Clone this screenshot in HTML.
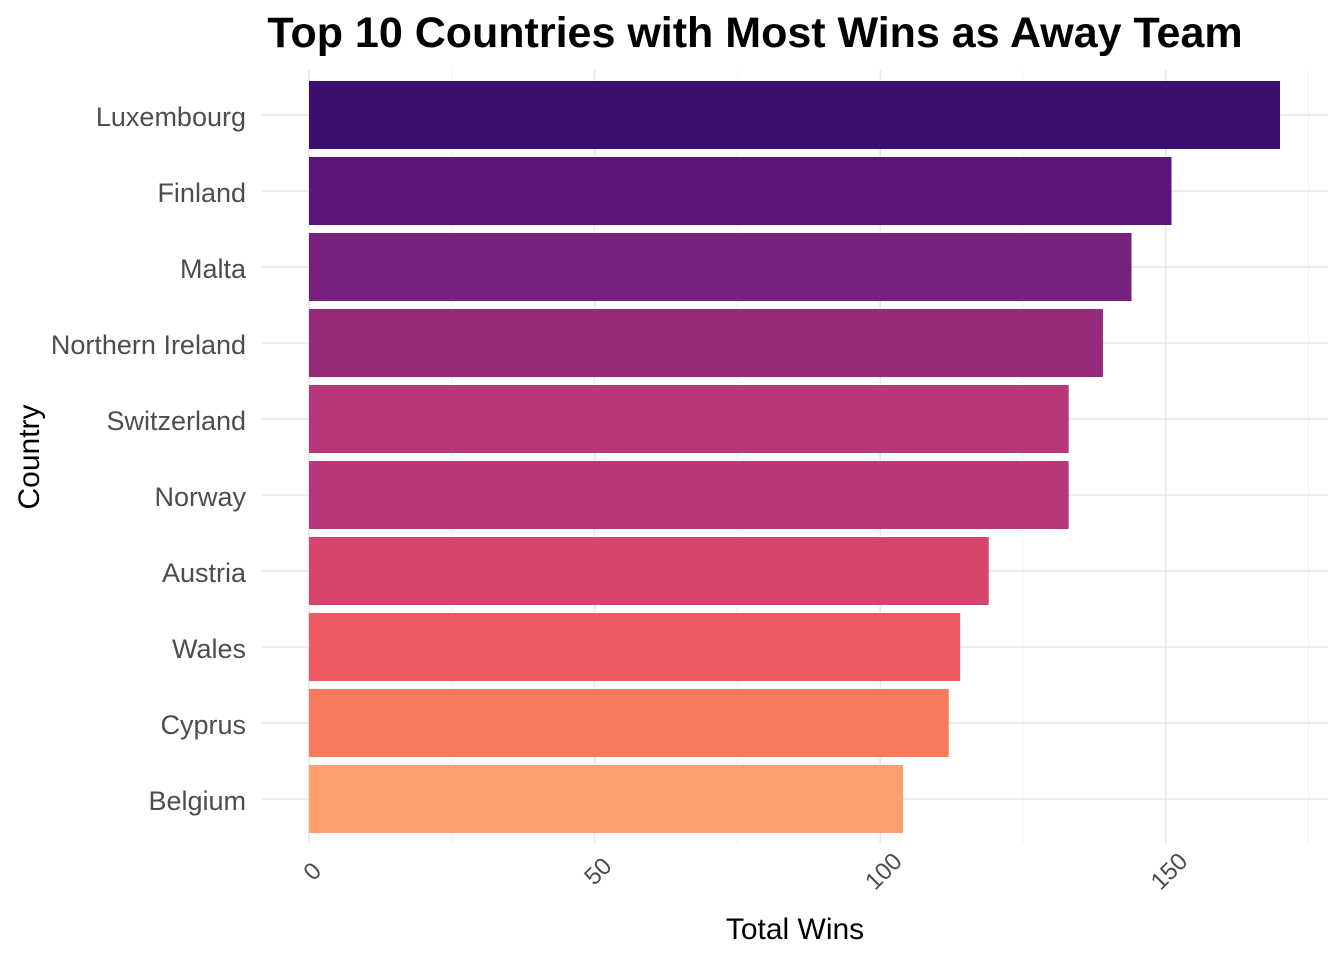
<!DOCTYPE html>
<html><head><meta charset="utf-8"><style>
body{margin:0;background:#fff;}
svg text{font-family:"Liberation Sans",Arial,sans-serif;}
</style></head><body>
<svg id="chart" width="1344" height="960">
<text x="755" y="47" text-anchor="middle" font-size="43" font-weight="bold" fill="#000">Top 10 Countries with Most Wins as Away Team</text>
<text x="795" y="939" text-anchor="middle" font-size="30" fill="#000">Total Wins</text>
<text transform="translate(39,457) rotate(-90)" text-anchor="middle" font-size="30" fill="#000">Country</text>
<g id="grid"></g><g id="bars"></g><g id="labels"></g>
</svg>
<script>
const categories=["Luxembourg","Finland","Malta","Northern Ireland","Switzerland","Norway","Austria","Wales","Cyprus","Belgium"];
const values=[170,151,144,139,133,133,119,114,112,104];
const colors=["#3b0f70","#5c167b","#78207d","#962b7b","#b73779","#b73779","#d8456c","#ed5a5f","#f8795c","#fe9f6d"];
const xTicks=[0,50,100,150];
const minorTicks=[25,75,125,175];
const NS="http://www.w3.org/2000/svg";
const x0=309,ppu=5.712,top0=81,pitch=76,bh=68,panelTop=70,panelBot=843,panelR=1328,panelL=261;
function xs(v){return x0+v*ppu;}
function yc(i){return top0+i*pitch+bh/2;}
const grid=document.getElementById('grid'),bars=document.getElementById('bars'),labels=document.getElementById('labels');
function mk(t,a,p){const e=document.createElementNS(NS,t);for(const k in a)e.setAttribute(k,a[k]);p.appendChild(e);return e;}
minorTicks.forEach(v=>{const l=mk('line',{x1:xs(v),x2:xs(v),y1:panelTop,y2:panelBot,stroke:'#f0f0f0','stroke-width':1},grid);

});
xTicks.forEach(v=>{const l=mk('line',{x1:xs(v),x2:xs(v),y1:panelTop,y2:panelBot,stroke:'#e6e6e6','stroke-width':1.5},grid);


const t=mk('text',{transform:`translate(${xs(v)+9},${877}) rotate(-45)`,'text-anchor':'middle','font-size':24,fill:'#4d4d4d'},labels);
t.textContent=v;

});
categories.forEach((c,i)=>{const l=mk('line',{x1:panelL,x2:panelR,y1:yc(i),y2:yc(i),stroke:'#e6e6e6','stroke-width':1.5},grid);


const r=mk('rect',{x:x0,y:yc(i)-bh/2,width:xs(values[i])-x0,height:bh,fill:colors[i]},bars);


const t=mk('text',{x:246,y:yc(i)+11,'text-anchor':'end','font-size':27,fill:'#4d4d4d'},labels);
t.textContent=c;

});
</script>
</body></html>
